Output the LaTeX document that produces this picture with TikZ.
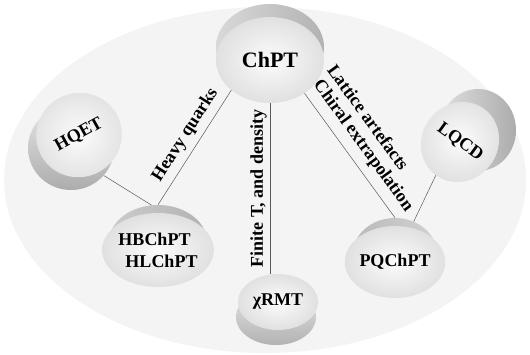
\documentclass[tikz,border=0pt]{standalone}
\usepackage{fontspec}
\setmainfont{Liberation Serif}
\usetikzlibrary{shapes.geometric}
\tikzstyle{face} = [ellipse, inner sep=0pt, inner color=gray!3, outer color=gray!24, font=\bfseries\fontsize{18}{22}\selectfont]
\tikzstyle{side} = [ellipse, inner sep=0pt, left color=gray!35, right color=gray!65]
\tikzstyle{line} = [draw=black!65, line width=0.5pt]
\tikzstyle{lab} = [font=\bfseries\fontsize{18}{22}\selectfont, sloped, inner sep=1pt]

\begin{document}
\begin{tikzpicture}[x=1pt, y=-1pt]
\useasboundingbox (0,0) rectangle (530,354);
\fill[gray!9] (265,180) ellipse [x radius=261, y radius=173];
% the discs: side first, face on top
\node [side, minimum width=108pt, minimum height=86pt, left color=gray!30, right color=gray!60] (chptside) at (270,47) {};
\node [face, minimum width=108pt, minimum height=86pt, font=\bfseries\fontsize{22}{24}\selectfont] (chpt) at (270,60) {ChPT};
\node [side, minimum width=86pt, minimum height=84pt, top color=gray!20, bottom color=gray!65] (hqetside) at (71,148) {};
\node [face, minimum width=86pt, minimum height=84pt, rotate=29] (hqet) at (79,135) {HQET};
\node [side, minimum width=98pt, minimum height=74pt, left color=gray!40, right color=gray!60] (hbchptside) at (158,242) {};
\node [face, minimum width=98pt, minimum height=74pt, align=left] (hbchpt) at (158,250) {HBChPT\\\hspace*{7pt}HLChPT};
\node [side, minimum width=80pt, minimum height=56pt, top color=gray!20, bottom color=gray!60] (rmtside) at (276,317) {};
\node [face, minimum width=80pt, minimum height=56pt] (rmt) at (278,302) {χRMT};
\node [side, minimum width=84pt, minimum height=72pt, left color=gray!55, right color=gray!35] (pqchptside) at (395,254) {};
\node [face, minimum width=84pt, minimum height=72pt] (pqchpt) at (395,262) {PQChPT};
\node [side, minimum width=76pt, minimum height=82pt, left color=gray!25, right color=gray!65] (lqcdside) at (478,130) {};
\node [face, minimum width=76pt, minimum height=82pt, rotate=-36] (lqcd) at (460,142) {LQCD};
% Draw the edges
\path [line] (chpt.218) -- node [lab, pos=0.46, above=5pt] {Heavy quarks} (hbchptside.north);
\path [line] (chpt.south |- rmt.north) -- node [lab, pos=0.5, above=2pt] {Finite T, and density} (chpt.south);
\path [line] (chpt.-44) -- node [lab, pos=0.37, above=30pt] {Lattice artefacts} node [lab, pos=0.5, above=7pt] {Chiral extrapolation} (pqchptside.north);
\path [line] (hqetside.-40) -- (hbchptside.100);
\path [line] (lqcd.south) -- (pqchptside.60);
\end{tikzpicture}
\end{document}
